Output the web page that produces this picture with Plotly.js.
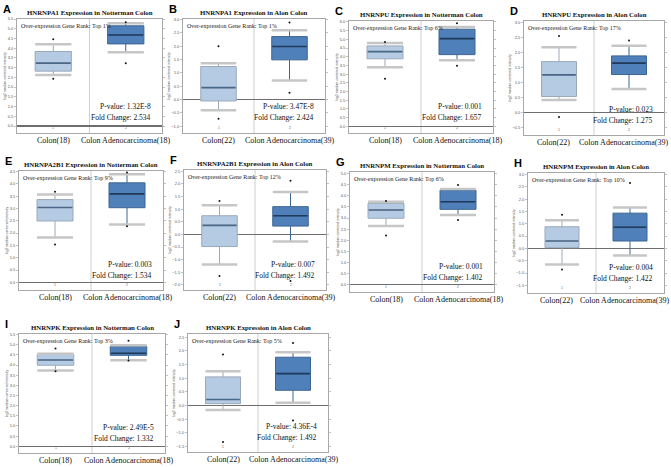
<!DOCTYPE html>
<html><head><meta charset="utf-8">
<script src="https://cdn.plot.ly/plotly-3.0.1.min.js"></script>
<style>html,body{margin:0;padding:0;background:#fff}#chart{width:671px;height:467px}</style>
</head><body><div id="chart"></div>
<script>
const panelLetters = ['A','B','C','D','E','F','G','H','I','J'];
const genes = ['HNRNPA1','HNRNPA1','HNRNPU','HNRNPU','HNRNPA2B1','HNRNPA2B1','HNRNPM','HNRNPM','HNRNPK','HNRNPK'];
const studies = ['Notterman','Alon','Notterman','Alon','Notterman','Alon','Notterman','Alon','Notterman','Alon'];
const normalLabels = ['Colon(18)','Colon(22)','Colon(18)','Colon(22)','Colon(18)','Colon(22)','Colon(18)','Colon(22)','Colon(18)','Colon(22)'];
const tumorLabels = ['Colon Adenocarcinoma(18)','Colon Adenocarcinoma(39)','Colon Adenocarcinoma(18)','Colon Adenocarcinoma(39)','Colon Adenocarcinoma(18)','Colon Adenocarcinoma(39)','Colon Adenocarcinoma(18)','Colon Adenocarcinoma(39)','Colon Adenocarcinoma(18)','Colon Adenocarcinoma(39)'];
const geneRanks = ['Top 1%','Top 1%','Top 6%','Top 17%','Top 9%','Top 12%','Top 6%','Top 10%','Top 3%','Top 5%'];
const pValues = ['1.32E-8','3.47E-8','0.001','0.023','0.003','0.007','0.001','0.004','2.49E-5','4.36E-4'];
const foldChanges = ['2.534','2.424','1.657','1.275','1.534','1.492','1.402','1.422','1.332','1.492'];

// normal (Colon) box statistics
const normLo  = [2.62,-0.40,3.40,0.42,1.82,-1.19,2.64,-0.65,3.73,-0.16];
const normQ1  = [2.82,-0.05,3.88,0.54,2.49,-0.48,2.99, 0.03,3.99, 0.07];
const normMed = [3.23, 0.45,4.29,1.26,3.04, 0.36,3.36, 0.30,4.25, 0.22];
const normQ3  = [3.83, 1.24,4.62,1.70,3.36, 0.74,3.66, 0.88,4.53, 1.05];
const normHi  = [4.20, 1.36,4.78,2.18,3.57, 1.15,3.73, 1.14,4.56, 1.26];
const normMin = [2.43,-0.72,2.73,-0.14,1.54,-1.65,2.21,-0.86,3.69,-1.33];
const normMax = [4.46, 2.00,4.84,2.55,3.68, 1.32,3.76, 1.37,4.81, 1.87];

// tumour (Colon Adenocarcinoma) box statistics
const tumLo  = [3.79,0.72,3.79,0.79,2.35,-0.28,3.13,-0.29,4.24,0.10];
const tumQ1  = [4.22,1.49,4.12,1.27,3.03, 0.33,3.39, 0.30,4.48,0.56];
const tumMed = [4.68,1.99,5.04,1.65,3.59, 0.74,3.73, 0.86,4.58,1.17];
const tumQ3  = [5.15,2.36,5.58,1.89,4.04, 1.10,4.25, 1.43,4.93,1.77];
const tumHi  = [5.28,2.60,5.71,2.23,4.39, 1.68,4.31, 1.66,4.98,1.95];
const tumMin = [3.23,0.26,3.48,null,2.28,-1.84,2.91,null,4.22,-0.55];
const tumMax = [5.33,2.89,5.92,2.40,4.46, 2.12,4.49, 2.65,5.20,2.29];

// layout geometry (pixels) and axis ranges
const W = 671, H = 467;
const boxes = [
  [17,162,19,133],[183,325,19,133],[349,493,21,133],[524,664,21,135],
  [19,163,171,290],[184,326,170,290],[350,494,172,292],[528,664,173,293],
  [19,165,334,453],[188,328,334,452]
];
const yRanges = [[-0.36,5.5],[-1.25,3.02],[-0.38,6.05],[-0.74,3.05],[-0.31,4.52],
                 [-2.2,2.55],[-0.33,5.07],[-1.81,3.06],[-0.33,5.53],[-1.7,2.62]];
const labelShift = [0,0,0,-6,0,0,0,-6,0,0];

const SERIF = 'Liberation Serif, Times New Roman, serif';
const SANS = 'Liberation Sans, Arial, sans-serif';
const traces = [];
const annotations = [];
const shapes = [];
const layout = {
  width: W, height: H, margin: {l:0,r:0,t:0,b:0},
  paper_bgcolor: '#fff', plot_bgcolor: '#fff', showlegend: false,
  font: {family: SERIF, color: '#000'}
};
const BW = 0.5;
const groups = [
  {c:1, lo:normLo, q1:normQ1, med:normMed, q3:normQ3, hi:normHi, mn:normMin, mx:normMax,
   fill:'#b5cbe4', line:'#9aa9b9', medc:'#4b6786'},
  {c:2, lo:tumLo, q1:tumQ1, med:tumMed, q3:tumQ3, hi:tumHi, mn:tumMin, mx:tumMax,
   fill:'#4f80b9', line:'#3c6592', medc:'#1f3a5a'}
];

for (let i = 0; i < 10; i++) {
  const s = i === 0 ? '' : String(i + 1);
  const xa = 'x' + s, ya = 'y' + s;
  const [l, r, t, b] = boxes[i];
  layout['xaxis' + s] = {
    domain: [l / W, r / W], range: [0.5, 2.5], anchor: ya,
    showticklabels: false, ticks: '', showgrid: false, zeroline: false,
    showline: true, mirror: true, linecolor: '#a8a8a8', linewidth: 1, fixedrange: true
  };
  layout['yaxis' + s] = {
    domain: [1 - b / H, 1 - t / H], range: yRanges[i], anchor: xa,
    tick0: 0, dtick: 0.5, tickformat: '.1f', ticks: 'outside', ticklen: 2, tickwidth: 0.6,
    tickcolor: '#999', tickfont: {family: SANS, size: 4, color: '#555'},
    showgrid: false, zeroline: true, zerolinecolor: '#6e6e6e', zerolinewidth: 1.2,
    showline: true, mirror: 'ticks', linecolor: '#a8a8a8', linewidth: 1,
    title: {text: 'log2 median-centered intensity', font: {family: SANS, size: 3.5, color: '#555'}, standoff: 1},
    fixedrange: true
  };
  shapes.push({type: 'line', xref: xa, yref: ya + ' domain', x0: 1.5, x1: 1.5, y0: 0, y1: 1,
               line: {color: '#cfcfcf', width: 1}, layer: 'below'});

  groups.forEach(g => {
    const c = g.c;
    [g.lo[i], g.hi[i]].forEach(v => {
      traces.push({type: 'scatter', mode: 'lines', xaxis: xa, yaxis: ya,
        x: [c - BW / 2, c + BW / 2], y: [v, v], line: {color: '#c6c6c6', width: 2.5}, hoverinfo: 'skip'});
    });
    traces.push({type: 'box', xaxis: xa, yaxis: ya, x: [c],
      q1: [g.q1[i]], median: [g.med[i]], q3: [g.q3[i]],
      lowerfence: [g.lo[i]], upperfence: [g.hi[i]],
      width: BW, whiskerwidth: 0, boxpoints: false,
      fillcolor: g.fill, line: {color: g.line, width: 1}, hoverinfo: 'skip'});
    traces.push({type: 'scatter', mode: 'lines', xaxis: xa, yaxis: ya,
      x: [c - BW / 2 + 0.01, c + BW / 2 - 0.01], y: [g.med[i], g.med[i]],
      line: {color: g.medc, width: 1.6}, hoverinfo: 'skip'});
    const dy = [g.mn[i], g.mx[i]].filter(v => v !== null);
    traces.push({type: 'scatter', mode: 'markers', xaxis: xa, yaxis: ya,
      x: dy.map(() => c), y: dy, marker: {color: '#111', size: 2}, hoverinfo: 'skip'});
  });

  const xd = xa + ' domain', yd = ya + ' domain';
  annotations.push({xref: 'paper', yref: yd, x: (l - 16) / W, y: 1, xanchor: 'left', yanchor: 'bottom',
    yshift: 2, text: '<b>' + panelLetters[i] + '</b>', showarrow: false,
    font: {family: SANS, size: 11, color: '#000'}});
  annotations.push({xref: xd, yref: yd, x: 0.5, y: 1, yanchor: 'bottom', yshift: 1,
    text: '<b>' + genes[i] + ' Expression in ' + studies[i] + ' Colon</b>', showarrow: false,
    font: {family: SERIF, size: 6.8, color: '#111'}});
  annotations.push({xref: xd, yref: yd, x: 0, y: 1, xanchor: 'left', yanchor: 'top', xshift: 2, yshift: -2,
    text: 'Over-expression Gene Rank: ' + geneRanks[i], showarrow: false,
    font: {family: SERIF, size: 6, color: '#222'}});
  annotations.push({xref: xd, yref: yd, x: 1, y: 0, xanchor: 'right', yanchor: 'middle', xshift: -9, yshift: 26,
    text: 'P-value: ' + pValues[i], showarrow: false, font: {family: SERIF, size: 7.5, color: '#111'}});
  annotations.push({xref: xd, yref: yd, x: 1, y: 0, xanchor: 'right', yanchor: 'middle', xshift: -9, yshift: 15,
    text: 'Fold Change: ' + foldChanges[i], showarrow: false, font: {family: SERIF, size: 7.5, color: '#111'}});
  ['1', '2'].forEach((txt, k) => {
    annotations.push({xref: xa, yref: yd, x: k + 1, y: 0, yanchor: 'bottom', yshift: 1,
      text: txt, showarrow: false, font: {family: SANS, size: 3.5, color: '#666'}});
  });
  annotations.push({xref: xa, yref: yd, x: 1, y: 0, yanchor: 'top', yshift: -1, xshift: labelShift[i],
    text: normalLabels[i], showarrow: false, font: {family: SERIF, size: 8, color: '#111'}});
  annotations.push({xref: xa, yref: yd, x: 2, y: 0, yanchor: 'top', yshift: -1, xshift: labelShift[i],
    text: tumorLabels[i], showarrow: false, font: {family: SERIF, size: 8, color: '#111'}});
}
layout.annotations = annotations;
layout.shapes = shapes;
Plotly.newPlot('chart', traces, layout, {staticPlot: true, displayModeBar: false});
</script>
</body></html>
